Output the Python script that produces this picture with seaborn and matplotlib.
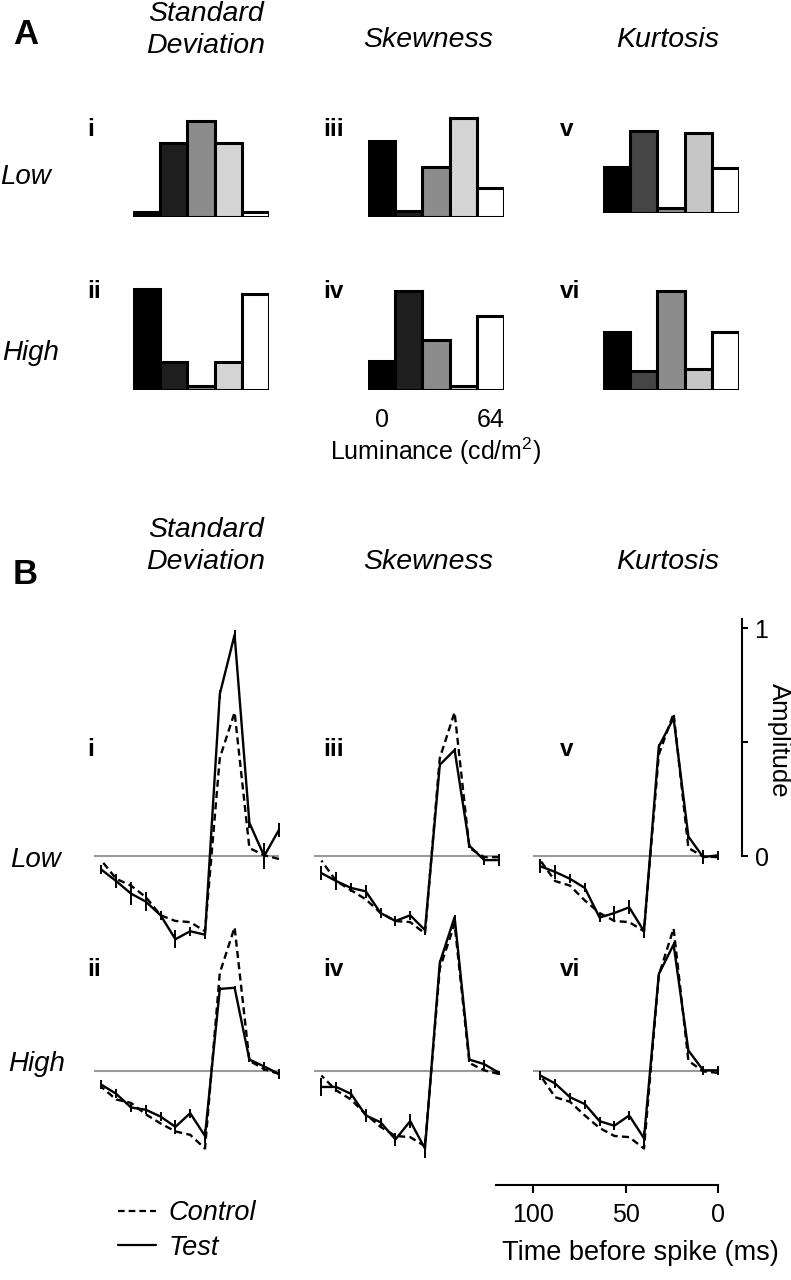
import numpy as np
import pandas as pd
import seaborn as sns
import matplotlib.pyplot as plt
from matplotlib.lines import Line2D

W, H = 791, 1280

# Panel A: luminance distributions (relative frequency per luminance bin)
lum_levels = ["0", "16", "32", "48", "64"]
sd_low = [0.02, 0.29, 0.375, 0.29, 0.02]
sd_high = [0.395, 0.11, 0.017, 0.11, 0.375]
skew_low = [0.295, 0.02, 0.195, 0.385, 0.11]
skew_high = [0.11, 0.385, 0.195, 0.012, 0.29]
kurt_low = [0.18, 0.32, 0.02, 0.315, 0.175]
kurt_high = [0.225, 0.073, 0.385, 0.08, 0.225]

# Panel B: spike-triggered averages (normalised amplitude)
time_ms = [96, 88, 80, 72, 64, 56, 48, 40, 32, 24, 16, 8, 0]
sd_low_control = [-0.02, -0.10, -0.13, -0.18, -0.26, -0.285, -0.29, -0.33, 0.43, 0.63, 0.035, 0.003, -0.013]
sd_low_test = [-0.06, -0.11, -0.165, -0.20, -0.26, -0.365, -0.33, -0.345, 0.71, 0.97, 0.145, 0.0, 0.115]
sd_low_err = [0.02, 0.03, 0.05, 0.04, 0.02, 0.04, 0.02, 0.02, 0.02, 0.02, 0.02, 0.055, 0.03]
sd_high_control = [-0.07, -0.125, -0.14, -0.19, -0.23, -0.265, -0.28, -0.34, 0.43, 0.63, 0.045, 0.008, -0.013]
sd_high_test = [-0.06, -0.10, -0.16, -0.17, -0.20, -0.245, -0.185, -0.285, 0.36, 0.365, 0.05, 0.02, -0.013]
sd_high_err = [0.02, 0.02, 0.02, 0.02, 0.02, 0.03, 0.02, 0.03, 0.01, 0.01, 0.01, 0.02, 0.02]
skew_low_control = [-0.02, -0.11, -0.15, -0.19, -0.25, -0.285, -0.29, -0.34, 0.43, 0.63, 0.035, -0.005, -0.005]
skew_low_test = [-0.075, -0.11, -0.14, -0.155, -0.25, -0.285, -0.26, -0.325, 0.40, 0.465, 0.045, -0.018, -0.018]
skew_low_err = [0.03, 0.04, 0.02, 0.03, 0.02, 0.02, 0.02, 0.02, 0.01, 0.01, 0.01, 0.02, 0.025]
skew_high_control = [-0.02, -0.085, -0.125, -0.19, -0.245, -0.285, -0.29, -0.33, 0.45, 0.645, 0.035, 0.003, -0.013]
skew_high_test = [-0.07, -0.07, -0.10, -0.195, -0.225, -0.30, -0.22, -0.34, 0.475, 0.675, 0.05, 0.03, -0.008]
skew_high_err = [0.04, 0.02, 0.02, 0.03, 0.02, 0.03, 0.03, 0.04, 0.01, 0.01, 0.01, 0.02, 0.01]
kurt_low_control = [-0.02, -0.11, -0.13, -0.195, -0.25, -0.285, -0.29, -0.33, 0.445, 0.625, 0.035, -0.002, -0.005]
kurt_low_test = [-0.045, -0.07, -0.10, -0.14, -0.27, -0.25, -0.225, -0.33, 0.48, 0.605, 0.085, -0.005, 0.003]
kurt_low_err = [0.03, 0.03, 0.02, 0.02, 0.02, 0.03, 0.03, 0.03, 0.01, 0.01, 0.01, 0.03, 0.02]
kurt_high_control = [-0.02, -0.115, -0.135, -0.195, -0.25, -0.285, -0.29, -0.34, 0.42, 0.625, 0.045, -0.002, -0.008]
kurt_high_test = [-0.02, -0.055, -0.115, -0.145, -0.22, -0.24, -0.195, -0.295, 0.425, 0.555, 0.09, 0.003, 0.003]
kurt_high_err = [0.02, 0.02, 0.02, 0.02, 0.02, 0.02, 0.02, 0.03, 0.01, 0.01, 0.01, 0.02, 0.02]

column_names = ["Standard\nDeviation", "Skewness", "Kurtosis"]
row_names = ["Low", "High"]
numerals = [["i", "ii"], ["iii", "iv"], ["v", "vi"]]

hist_sets = [[sd_low, sd_high], [skew_low, skew_high], [kurt_low, kurt_high]]
sta_sets = [
    [(sd_low_control, sd_low_test, sd_low_err), (sd_high_control, sd_high_test, sd_high_err)],
    [(skew_low_control, skew_low_test, skew_low_err), (skew_high_control, skew_high_test, skew_high_err)],
    [(kurt_low_control, kurt_low_test, kurt_low_err), (kurt_high_control, kurt_high_test, kurt_high_err)],
]

BAR_COLORS = [
    ["#000000", "#1e1e1e", "#8c8c8c", "#d4d4d4", "#ffffff"],
    ["#000000", "#1e1e1e", "#8c8c8c", "#d4d4d4", "#ffffff"],
    ["#000000", "#454545", "#8c8c8c", "#c6c6c6", "#ffffff"],
]
GRAY = "#9a9a9a"
DASH = (3, 1.8)

sns.set_theme(style="white")
plt.rcParams["font.family"] = ["Liberation Sans", "DejaVu Sans"]
plt.rcParams["text.color"] = "black"
plt.rcParams["axes.labelcolor"] = "black"
plt.rcParams["xtick.color"] = "black"
plt.rcParams["ytick.color"] = "black"
plt.rcParams["mathtext.fontset"] = "custom"
plt.rcParams["mathtext.rm"] = "Liberation Sans"

fig = plt.figure(figsize=(W / 100, H / 100), dpi=100)
fig.set_facecolor("white")


def rect(left, top, width, height):
    return [left / W, 1 - (top + height) / H, width / W, height / H]


def put(x, y, s, **kw):
    kw.setdefault("va", "center")
    fig.text(x / W, 1 - y / H, s, **kw)


# ---------------- Panel A ----------------
hist_left = [133, 368, 603]
hist_base = [[217, 390], [216.5, 389.5], [213, 389.5]]
HIST_H = 107
for c in range(3):
    pal = dict(zip(lum_levels, BAR_COLORS[c]))
    for r in range(2):
        base = hist_base[c][r]
        ax = fig.add_axes(rect(hist_left[c], base - HIST_H, 136, HIST_H))
        ax.patch.set_alpha(0)
        sns.barplot(x=lum_levels, y=hist_sets[c][r], hue=lum_levels, palette=pal,
                    width=1.0, edgecolor="black", linewidth=2.2, legend=False, ax=ax)
        ax.set_xlim(-0.5, 4.5)
        ax.set_ylim(0, 0.42)
        sns.despine(ax=ax, left=True, bottom=True)
        ax.set_yticks([])
        ax.set_ylabel("")
        if c == 1 and r == 1:
            ax.set_xticks([0, 4])
            ax.set_xticklabels(["0", "64"])
            ax.tick_params(axis="x", length=0, pad=13, labelsize=18)
            ax.set_xlabel("Luminance (cd/m$^{2}$)", fontsize=18, labelpad=3)
        else:
            ax.set_xticks([])
            ax.set_xlabel("")

# ---------------- Panel B ----------------
B_left = [57, 277, 496]
B_base = [856, 1071]
UNIT = 228
for c in range(3):
    for r in range(2):
        control, test, err = sta_sets[c][r]
        base = B_base[r]
        ax = fig.add_axes(rect(B_left[c], base - 1.05 * UNIT, 222, 1.55 * UNIT))
        ax.patch.set_alpha(0)
        df = pd.DataFrame({
            "time": time_ms + time_ms,
            "amp": control + test,
            "cond": ["Control"] * len(time_ms) + ["Test"] * len(time_ms),
        })
        ax.hlines(0, 100, 0, color=GRAY, lw=1.5, zorder=0)
        sns.lineplot(data=df, x="time", y="amp", style="cond",
                     dashes={"Control": DASH, "Test": ""}, color="black",
                     lw=1.7, legend=False, ax=ax, clip_on=False)
        ax.errorbar(time_ms, test, yerr=err, fmt="none", ecolor="black",
                    elinewidth=1.4, clip_on=False)
        ax.set_xlim(120, 0)
        ax.set_ylim(-0.5, 1.05)
        for s in ax.spines.values():
            s.set_visible(False)
        ax.set_xticks([])
        ax.set_yticks([])
        ax.set_xlabel("")
        ax.set_ylabel("")

        if c == 2 and r == 0:
            sp = ax.spines["right"]
            sp.set_visible(True)
            sp.set_color("black")
            sp.set_linewidth(1.5)
            sp.set_position(("outward", 17.3))
            sp.set_bounds(0, 1.04)
            ax.yaxis.set_ticks_position("right")
            ax.set_yticks([0, 0.5, 1])
            ax.set_yticklabels(["0", "", "1"])
            ax.tick_params(axis="y", right=True, left=False, direction="out",
                           length=4, width=1.5, pad=5, labelsize=18)

        if c == 2 and r == 1:
            sp = ax.spines["bottom"]
            sp.set_visible(True)
            sp.set_color("black")
            sp.set_linewidth(1.5)
            ax.set_xticks([100, 50, 0])
            ax.set_xticklabels(["100", "50", "0"])
            ax.tick_params(axis="x", bottom=True, direction="out", length=6,
                           width=1.5, pad=7, labelsize=18)
            ax.set_xlabel("Time before spike (ms)", fontsize=19.5, labelpad=9, x=0.65)

put(779, 740, "Amplitude", fontsize=18.5, rotation=270, ha="center")

# legend
handles = [
    Line2D([], [], color="black", lw=1.6, dashes=DASH),
    Line2D([], [], color="black", lw=1.6),
]
fig.legend(handles, ["Control", "Test"], loc="center left",
           bbox_to_anchor=(118 / W, 1 - 1230.5 / H), frameon=False,
           prop={"style": "italic", "size": 19.5}, handlelength=1.4,
           handletextpad=0.45, labelspacing=0.3, borderpad=0, borderaxespad=0)

# ---------------- labels ----------------
put(13, 34, "A", fontsize=25, fontweight="bold", ha="left")
put(13, 575, "B", fontsize=25, fontweight="bold", ha="left")

title_x = [206, 428, 668]
for c in range(3):
    ya = 30 if c == 0 else 40
    put(title_x[c], ya, column_names[c], fontsize=20.5, style="italic",
        ha="center", linespacing=1.3)
    yb = 546 if c == 0 else 562
    put(title_x[c], yb, column_names[c], fontsize=20.5, style="italic",
        ha="center", linespacing=1.3)

put(0, 177, "Low", fontsize=20, style="italic", ha="left")
put(2, 353, "High", fontsize=20, style="italic", ha="left")
put(10, 860, "Low", fontsize=20, style="italic", ha="left")
put(8, 1064, "High", fontsize=20, style="italic", ha="left")

num_x = [87, 323, 560]
num_y_a = [130, 292]
num_y_b = [750, 970]
for c in range(3):
    for r in range(2):
        put(num_x[c], num_y_a[r], numerals[c][r], fontsize=17.5, fontweight="bold", ha="left")
        put(num_x[c], num_y_b[r], numerals[c][r], fontsize=17.5, fontweight="bold", ha="left")

fig.savefig("out.png", dpi=100)
